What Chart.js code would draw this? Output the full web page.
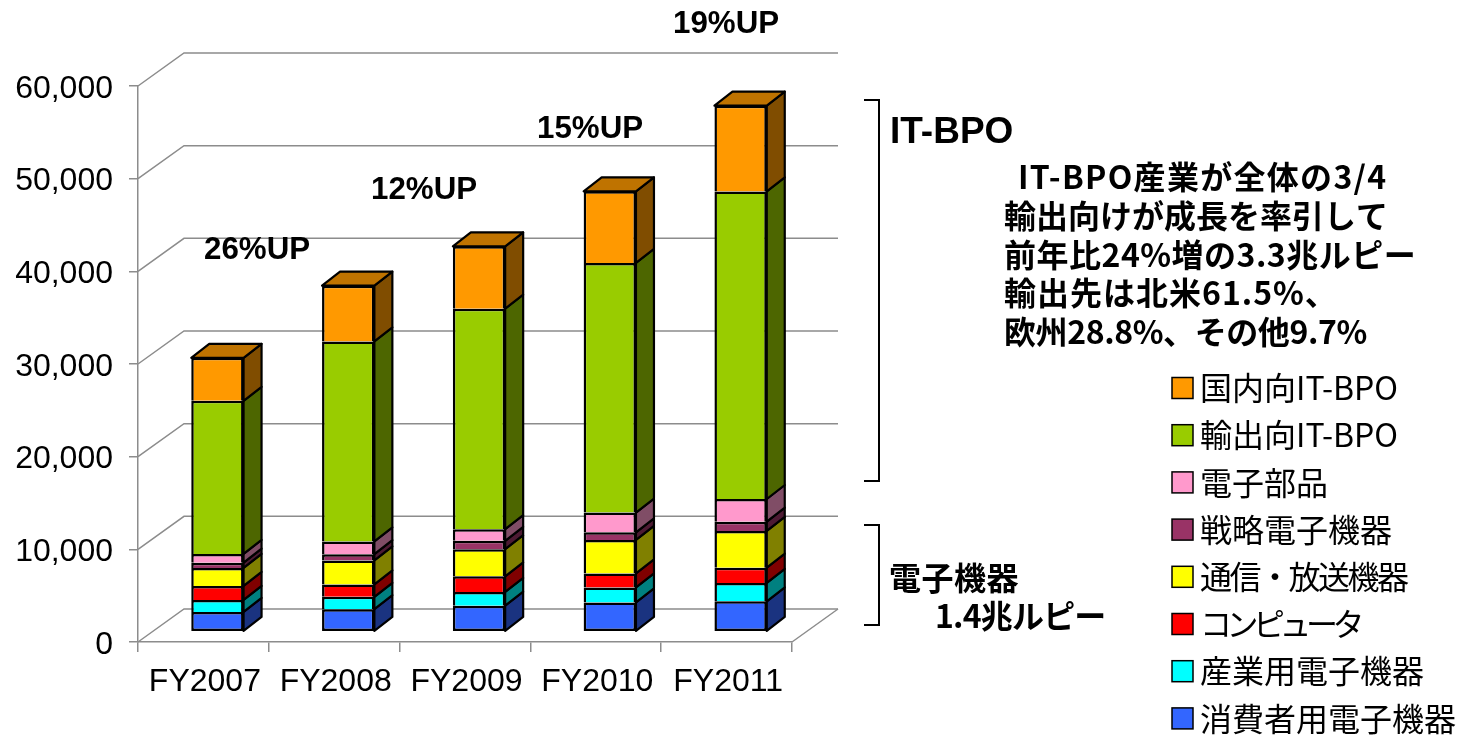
<!DOCTYPE html>
<html lang="ja">
<head>
    <meta charset="UTF-8">
    <title>インドIT産業の売上推移</title>
    <script src="https://cdn.jsdelivr.net/npm/chart.js"></script>
    <style>
        body { margin: 0; background: #fff; }
        canvas { display: block; }
    </style>
</head>
<body>
    <canvas id="salesChart" width="1461" height="736"></canvas>

    <script>
        const years = ['FY2007', 'FY2008', 'FY2009', 'FY2010', 'FY2011'];

        // bottom of the stack first
        const consumerElectronics = [2130, 2430, 2810, 3160, 3280];
        const industrialElectronics = [1300, 1330, 1480, 1620, 1980];
        const computers = [1510, 1340, 1690, 1510, 1650];
        const telecomBroadcast = [1940, 2590, 2920, 3610, 3960];
        const strategicElectronics = [570, 680, 910, 820, 1000];
        const components = [940, 1370, 1250, 2130, 2450];
        const exportItBpo = [16520, 21580, 23800, 26940, 33190];
        const domesticItBpo = [4640, 6020, 6730, 7730, 9260];

        const seriesNames = ['消費者用電子機器', '産業用電子機器', 'コンピュータ', '通信・放送機器', '戦略電子機器', '電子部品', '輸出向IT-BPO', '国内向IT-BPO'];
        const seriesValues = [consumerElectronics, industrialElectronics, computers, telecomBroadcast, strategicElectronics, components, exportItBpo, domesticItBpo];
        const frontColors = ['#3366FF', '#00FFFF', '#FF0000', '#FFFF00', '#993366', '#FF99CC', '#99CC00', '#FF9900'];
        const sideColors = ['#1A3380', '#008080', '#800000', '#808000', '#4D1A33', '#804D66', '#4D6600', '#804D00'];
        const topColor = '#BF7300';

        const axisMax = 60000;
        const axisStep = 10000;

        const growthLabels = ['26%UP', '12%UP', '15%UP', '19%UP'];
        const noteLines = ['IT-BPO産業が全体の3/4', '輸出向けが成長を率引して', '前年比24%増の3.3兆ルピー', '輸出先は北米61.5%、', '欧州28.8%、その他9.7%'];

        const SANS = '"Liberation Sans", Arial, sans-serif';
        const GOTHIC = '"Noto Sans CJK JP", sans-serif';
        const GRID = '#8c8c8c';

        // wall depth of the plot box, and where the bars stand on the floor
        const WALL_X = 46, WALL_Y = 33;
        const BAR_X = 14, BAR_Y = 10.3;
        const DEPTH_X = 18, DEPTH_Y = 14;

        // tracking in px, the proportional kana and dots run tighter than the kanji
        const noteTracking = [1.3, 0, 0.5, 1, -0.4];
        const keyTracking = [0, 0, -5.5, -2.5, 0, 0, 0, 0];

        function quad(ctx, pts, fill) {
            ctx.beginPath();
            pts.forEach((p, i) => i ? ctx.lineTo(p[0], p[1]) : ctx.moveTo(p[0], p[1]));
            ctx.closePath();
            ctx.fillStyle = fill;
            ctx.fill();
            ctx.stroke();
        }

        // back wall: slanted piece on the side wall, then the long line behind the bars
        const wallPlugin = {
            id: 'wall',
            beforeDatasetsDraw(chart) {
                const { ctx, chartArea, scales } = chart;
                ctx.save();
                ctx.strokeStyle = GRID;
                ctx.lineWidth = 1.5;
                scales.y.ticks.forEach(tick => {
                    const y = scales.y.getPixelForValue(tick.value);
                    ctx.beginPath();
                    ctx.moveTo(chartArea.left, y);
                    ctx.lineTo(chartArea.left + WALL_X, y - WALL_Y);
                    ctx.lineTo(chartArea.right + WALL_X, y - WALL_Y);
                    ctx.stroke();
                });
                const floor = scales.y.getPixelForValue(0);
                ctx.beginPath();
                ctx.moveTo(chartArea.right, floor);
                ctx.lineTo(chartArea.right + WALL_X, floor - WALL_Y);
                ctx.stroke();
                ctx.restore();
            }
        };

        // side and top faces come from the bar elements, the front is drawn by Chart.js
        const bar3dPlugin = {
            id: 'bar3d',
            beforeDatasetsDraw(chart) {
                const ctx = chart.ctx;
                ctx.save();
                ctx.translate(BAR_X, -BAR_Y);
                ctx.strokeStyle = '#000';
                ctx.lineWidth = 2.2;
                ctx.lineJoin = 'round';
                seriesNames.forEach((name, i) => {
                    chart.getDatasetMeta(i).data.forEach(bar => {
                        const right = bar.x + bar.width / 2;
                        const left = bar.x - bar.width / 2;
                        quad(ctx, [[right, bar.base], [right + DEPTH_X, bar.base - DEPTH_Y], [right + DEPTH_X, bar.y - DEPTH_Y], [right, bar.y]], sideColors[i]);
                        if (i === seriesNames.length - 1) {
                            quad(ctx, [[left, bar.y], [left + DEPTH_X, bar.y - DEPTH_Y], [right + DEPTH_X, bar.y - DEPTH_Y], [right, bar.y]], topColor);
                        }
                    });
                });
                ctx.restore();
            },
            beforeDatasetDraw(chart) {
                chart.ctx.save();
                chart.ctx.translate(BAR_X, -BAR_Y);
            },
            afterDatasetDraw(chart) {
                chart.ctx.restore();
            }
        };

        // legend runs top-down from the last series, so it is laid out by hand
        const keyPlugin = {
            id: 'key',
            afterDraw(chart) {
                const ctx = chart.ctx;
                ctx.save();
                ctx.textBaseline = 'middle';
                ctx.font = '400 32px ' + GOTHIC;
                chart.data.datasets.forEach((ds, i) => {
                    const y = 388 + (seriesNames.length - 1 - i) * 47.2;
                    ctx.fillStyle = ds.backgroundColor;
                    ctx.strokeStyle = '#000';
                    ctx.lineWidth = 1.5;
                    ctx.fillRect(1172, y - 10.5, 21, 21);
                    ctx.strokeRect(1172, y - 10.5, 21, 21);
                    ctx.fillStyle = '#000';
                    ctx.letterSpacing = keyTracking[i] + 'px';
                    ctx.fillText(ds.label, 1200, y);
                });
                ctx.restore();
            }
        };

        function bracket(ctx, top, bottom) {
            ctx.beginPath();
            ctx.moveTo(864, top);
            ctx.lineTo(879, top);
            ctx.lineTo(879, bottom);
            ctx.lineTo(864, bottom);
            ctx.stroke();
        }

        const notesPlugin = {
            id: 'notes',
            afterDraw(chart) {
                const ctx = chart.ctx;
                ctx.save();
                ctx.fillStyle = '#000';
                ctx.strokeStyle = '#000';
                ctx.lineWidth = 2;
                ctx.textBaseline = 'middle';

                bracket(ctx, 100, 481);
                bracket(ctx, 525, 625);

                ctx.font = 'bold 31.3px ' + SANS;
                ctx.fillText(growthLabels[0], 204, 250);
                ctx.fillText(growthLabels[1], 371, 190);
                ctx.fillText(growthLabels[2], 537, 129);
                ctx.fillText(growthLabels[3], 673, 24);

                ctx.font = 'bold 37px ' + SANS;
                ctx.fillText('IT-BPO', 890, 133);

                ctx.font = '700 32px ' + GOTHIC;
                noteLines.forEach((line, i) => {
                    ctx.letterSpacing = noteTracking[i] + 'px';
                    ctx.fillText(line, i === 0 ? 1018 : 1004, 177 + i * 38.7);
                });
                ctx.letterSpacing = '0.5px';
                ctx.fillText('電子機器', 889, 578);
                ctx.letterSpacing = '-0.8px';
                ctx.fillText('1.4兆ルピー', 935, 616);
                ctx.restore();
            }
        };

        new Chart(document.getElementById('salesChart'), {
            type: 'bar',
            data: {
                labels: years,
                datasets: seriesNames.map((name, i) => ({
                    label: name,
                    data: seriesValues[i],
                    backgroundColor: frontColors[i],
                    borderColor: '#000',
                    borderWidth: 2.5,
                    borderSkipped: i === 0 ? false : 'start',
                    barPercentage: 0.4,
                    categoryPercentage: 1
                }))
            },
            plugins: [wallPlugin, bar3dPlugin, notesPlugin, keyPlugin],
            options: {
                responsive: false,
                animation: false,
                layout: { padding: { top: 86, right: 669, bottom: 0, left: 0 } },
                plugins: { legend: { display: false }, tooltip: { enabled: false } },
                scales: {
                    x: {
                        stacked: true,
                        afterFit: scale => { scale.height = 94; },
                        grid: { drawOnChartArea: false, color: GRID, lineWidth: 1.5, tickLength: 10 },
                        border: { color: GRID, width: 1.5 },
                        ticks: { color: '#000', font: { family: SANS, size: 32 }, padding: 11, labelOffset: 1.5, maxRotation: 0 }
                    },
                    y: {
                        stacked: true,
                        min: 0,
                        max: axisMax,
                        afterFit: scale => { scale.width = 138; },
                        grid: { drawOnChartArea: false, color: GRID, lineWidth: 1.5, tickLength: 9 },
                        border: { color: GRID, width: 1.5 },
                        ticks: {
                            stepSize: axisStep,
                            color: '#000',
                            padding: 16,
                            labelOffset: 3,
                            font: { family: SANS, size: 32 },
                            callback: v => v.toLocaleString('en-US')
                        }
                    }
                }
            }
        });
    </script>
</body>
</html>
